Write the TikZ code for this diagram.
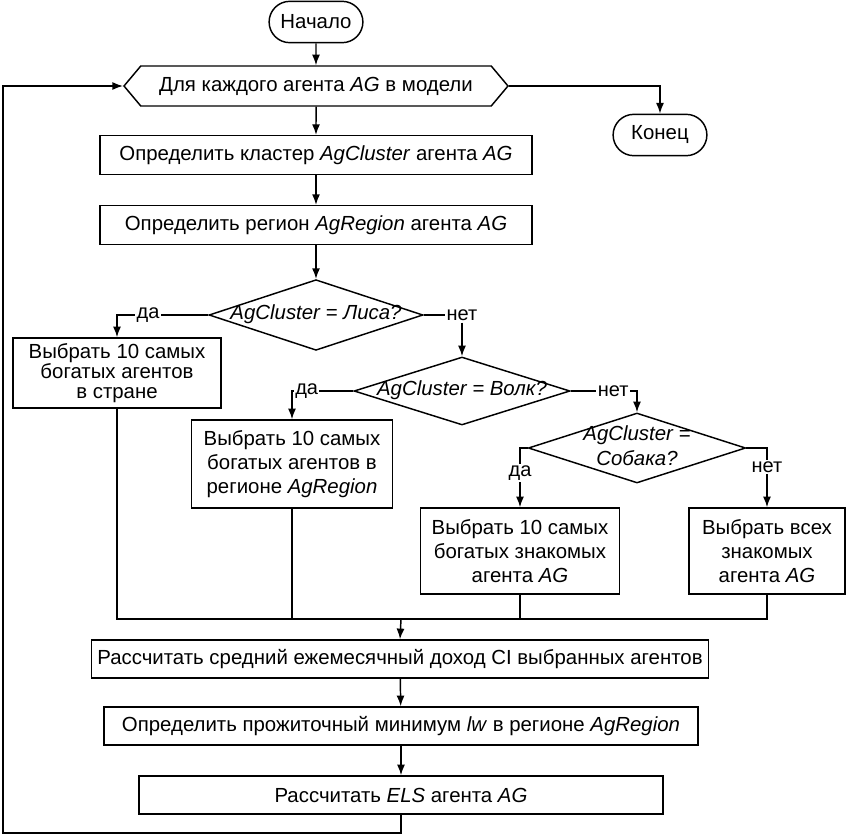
\documentclass[tikz,border=0pt]{standalone}
\usepackage{fontspec}
\setmainfont{Liberation Sans}
\usetikzlibrary{shapes.geometric, shapes.misc, shapes.symbols, arrows.meta}
\usetikzlibrary{positioning}
\newcommand{\dtext}[1]{\makebox[0pt]{\begin{tabular}{@{}c@{}}#1\end{tabular}}}

\begin{document}
\begin{tikzpicture}[>={Latex[length=8pt,width=6pt]}, x=0.75pt, y=-0.75pt, line width=1.1pt,
	every node/.style={font=\fontsize{15.3}{18}\selectfont},
	proc/.style={draw, rectangle, inner sep=2pt, align=center, minimum height=28.5pt},
	term/.style={draw, rounded rectangle, minimum width=77pt, minimum height=31pt},
	cycle/.style={draw, signal, signal to=west and east, signal pointer angle=100, minimum width=288pt, minimum height=30pt},
	decision/.style={draw, diamond, inner sep=0pt},
	lbl/.style={fill=white, inner sep=1pt, font=\fontsize{15}{16}\selectfont}]
		\useasboundingbox (0,0) rectangle (847,835);
		
		\node[term] (start) at (316,22) {Начало};
		\node[cycle] (loop) at (316,86) {Для каждого агента \textit{AG} в модели};
		\node[term] (end) at (660,135) {Конец};
		\node[proc, minimum width=324pt, minimum height=29pt] (clust) at (316,155) {Определить кластер \textit{AgCluster} агента \textit{AG}};
		\node[proc, minimum width=324pt, minimum height=29pt] (reg) at (316,225) {Определить регион \textit{AgRegion} агента \textit{AG}};
		
		\node[decision, minimum width=160.5pt, minimum height=53pt] (fox) at (316,315) {\dtext{\textit{AgCluster = Лиса?}}};
		\node[decision, minimum width=162pt, minimum height=51pt] (wolf) at (462,391) {\dtext{\textit{AgCluster = Волк?}}};
		\node[decision, minimum width=163pt, minimum height=52.5pt] (dog) at (637,448) {\dtext{\textit{AgCluster =}\\[1pt]\textit{Собака?}}};
		
		\node[proc, minimum width=156pt, minimum height=52.5pt, font=\fontsize{15.3}{15}\selectfont] (country) at (117,373) {Выбрать 10 самых\\богатых агентов\\в стране};
		\node[proc, minimum width=151pt, minimum height=66pt] (region) at (292,464) {Выбрать 10 самых\\богатых агентов в\\регионе \textit{AgRegion}};
		\node[proc, minimum width=149pt, minimum height=64.5pt] (acqten) at (520,551) {Выбрать 10 самых\\богатых знакомых\\агента \textit{AG}};
		\node[proc, minimum width=117pt, minimum height=64.5pt] (acqall) at (767,551) {Выбрать всех\\знакомых\\агента \textit{AG}};
		
		\node[proc, minimum width=463pt] (income) at (400,659) {Рассчитать средний ежемесячный доход CI выбранных агентов};
		\node[proc, minimum width=445.5pt] (minw) at (401,726) {Определить прожиточный минимум \textit{lw} в регионе \textit{AgRegion}};
		\node[proc, minimum width=393pt] (els) at (401,795) {Рассчитать \textit{ELS} агента \textit{AG}};
		
		\coordinate (merge) at (401,619);
		\coordinate (back) at (3,833);
		
		\draw[->] (start) -- (loop);
		\draw[->] (loop) -- (clust);
		\draw[->] (loop.east) -| (end.north);
		\draw[->] (clust) -- (reg);
		\draw[->] (reg) -- (fox);
		
		\draw[->] (fox.west) -| node[lbl, pos=0.33]{да} (country.north);
		\node[lbl] (foxno) at (fox.east -| wolf.north) {нет};
		\draw (fox.east) -- (foxno);
		\draw[->] (foxno) -- (wolf.north);
		
		\draw[->] (wolf.west) -| node[lbl, pos=0.38]{да} (region.north);
		\draw[->] (wolf.east) -| node[lbl, pos=0.32]{нет} (dog.north);
		
		\draw[->] (dog.west) -| node[lbl, pos=0.71]{да} (acqten.north);
		\draw[->] (dog.east) -| node[lbl, pos=0.66]{нет} (acqall.north);
		
		\draw (country.south) |- (merge);
		\draw (region.south) |- (merge);
		\draw (acqten.south) |- (merge);
		\draw (acqall.south) |- (merge);
		\draw[->] (merge) -- (income.north);
		\draw[->] (income) -- (minw);
		\draw[->] (minw) -- (els);
		\draw[->] (els.south) |- (back) |- (loop.west);
		\end{tikzpicture}
\end{document}
